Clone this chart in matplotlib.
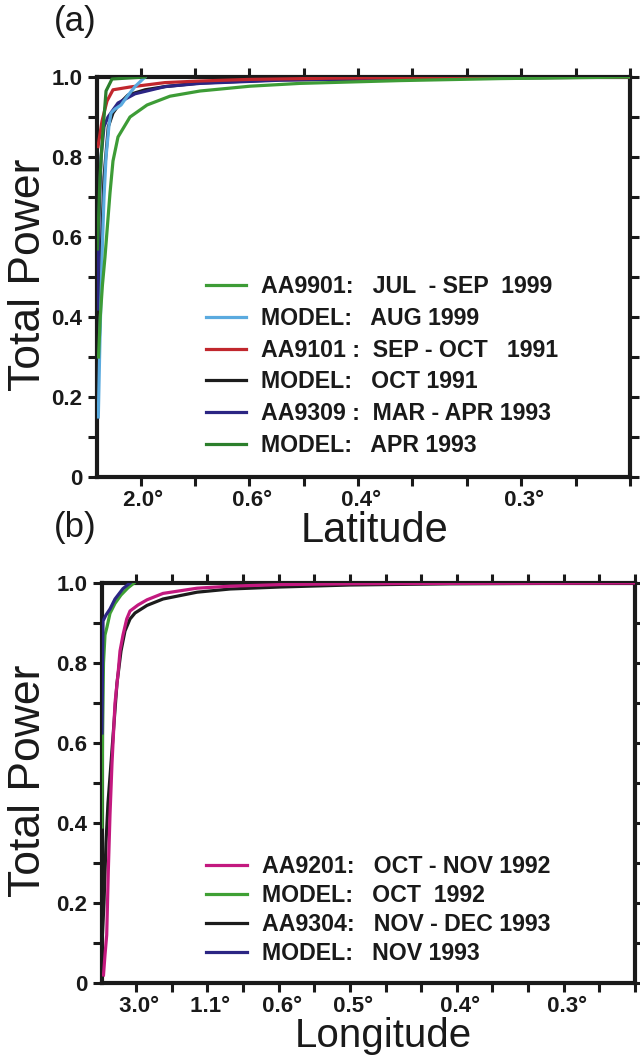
import matplotlib
matplotlib.use("Agg")
import matplotlib.pyplot as plt

plt.rcParams["font.family"] = ["Liberation Sans", "DejaVu Sans"]
INK = "#1a1a1a"

# ---- panel (a): latitude spectra, x in tick-index units ----
lat_ticklabels = [" 2.0°", "", " 0.6°", "", " 0.4°", "", "", " 0.3°", "", ""]

aa9901_x = [-0.772, -0.74, -0.70, -0.653, -0.561, -0.506, -0.414, -0.193, 0.12, 0.542,
            1.094, 2.013, 2.932, 4.771, 6.609, 9.0]
aa9901_y = [0.30, 0.40, 0.48, 0.55, 0.71, 0.79, 0.85, 0.90, 0.93, 0.952,
            0.965, 0.977, 0.984, 0.991, 0.996, 1.0]

aug1999_x = [-0.776, -0.745, -0.708, -0.671, -0.634, -0.579, -0.542, -0.469, -0.358,
             -0.248, -0.101, 0.083]
aug1999_y = [0.15, 0.35, 0.55, 0.70, 0.80, 0.88, 0.91, 0.92, 0.93, 0.951, 0.976, 1.0]

aa9101_x = [-0.781, -0.708, -0.616, -0.506, -0.193, 0.45, 1.094, 2.013, 3.484, 5.69, 9.0]
aa9101_y = [0.826, 0.89, 0.94, 0.968, 0.975, 0.986, 0.99, 0.994, 0.997, 0.999, 1.0]

oct1991_x = [-0.763, -0.726, -0.671, -0.592, -0.506, -0.377, -0.230, 0.083, 0.45,
             1.094, 2.565, 9.0]
oct1991_y = [0.30, 0.55, 0.75, 0.876, 0.91, 0.935, 0.955, 0.968, 0.976, 0.985, 0.993, 1.0]

aa9309_x = [-0.791, -0.763, -0.726, -0.671, -0.598, -0.414, -0.101, 0.45, 1.094,
            2.565, 4.771, 9.0]
aa9309_y = [0.42, 0.65, 0.80, 0.876, 0.90, 0.935, 0.958, 0.976, 0.984, 0.992, 0.997, 1.0]

apr1993_x = [-0.791, -0.745, -0.699, -0.634, -0.524, 0.083]
apr1993_y = [0.57, 0.75, 0.85, 0.965, 0.995, 1.0]

# ---- panel (b): longitude spectra ----
lon_ticklabels = [" 3.0°", "", " 1.1°", "", " 0.6°", "", " 0.5°", "", "", " 0.4°",
                  "", "", " 0.3°", "", ""]

aa9201_x = [-0.912, -0.870, -0.822, -0.777, -0.730, -0.673, -0.589, -0.497, -0.449,
            -0.365, -0.261, -0.168, 0.056, 0.309, 0.758, 1.712, 2.637, 4.04, 6.005,
            8.81, 14.0]
aa9201_y = [0.02, 0.07, 0.12, 0.28, 0.42, 0.55, 0.70, 0.78, 0.83, 0.87, 0.91, 0.93,
            0.945, 0.958, 0.974, 0.987, 0.992, 0.996, 0.998, 0.999, 1.0]

aa9304_x = [-0.954, -0.898, -0.842, -0.786, -0.701, -0.617, -0.533, -0.421, -0.309,
            -0.168, -0.028, 0.309, 0.758, 1.712, 2.637, 4.04, 6.005, 8.81, 14.0]
aa9304_y = [0.10, 0.20, 0.35, 0.45, 0.55, 0.65, 0.75, 0.83, 0.88, 0.91, 0.925, 0.944,
            0.96, 0.977, 0.985, 0.99, 0.995, 0.998, 1.0]

oct1992_x = [-0.954, -0.940, -0.912, -0.870, -0.814, -0.730, -0.589, -0.421, -0.224, -0.056]
oct1992_y = [0.39, 0.62, 0.80, 0.87, 0.89, 0.924, 0.949, 0.97, 0.988, 1.0]

nov1993_x = [-0.954, -0.940, -0.926, -0.842, -0.730, -0.589, -0.365, -0.168]
nov1993_y = [0.625, 0.80, 0.905, 0.92, 0.935, 0.96, 0.986, 1.0]

ytick_labels = ["0", "0.2", "0.4", "0.6", "0.8", "1.0"]


def style_axes(ax, xlim, n_ticks, labels):
    ax.set_xlim(*xlim)
    ax.set_ylim(0, 1)
    ax.set_xticks(range(n_ticks))
    ax.set_xticklabels(labels)
    ax.set_yticks([i / 10 for i in range(11)])
    ax.set_yticklabels(["" if i % 2 else ytick_labels[i // 2] for i in range(11)])
    ax.tick_params(direction="out", length=6.5, width=2.2, color=INK,
                   top=True, right=True, labelsize=16, labelcolor=INK)
    ax.tick_params(axis="y", pad=4)
    ax.tick_params(axis="x", pad=3)
    for lab in ax.get_xticklabels() + ax.get_yticklabels():
        lab.set_fontweight("bold")
    for s in ax.spines.values():
        s.set_linewidth(3)
        s.set_color(INK)


def style_legend(leg):
    for t in leg.get_texts():
        t.set_fontweight("bold")
        t.set_color(INK)


fig = plt.figure(figsize=(6.4, 10.57), dpi=100)

ax1 = fig.add_axes([97 / 640, 1 - 477 / 1057, 533 / 640, 400 / 1057])
kw = dict(lw=2.3, zorder=3, solid_joinstyle="round")
l4, = ax1.plot(oct1991_x, oct1991_y, color="#1c1c1c", label="MODEL:   OCT 1991", **kw)
l5, = ax1.plot(aa9309_x, aa9309_y, color="#2b2583", label="AA9309 :  MAR - APR 1993", **kw)
l3, = ax1.plot(aa9101_x, aa9101_y, color="#c1272d", label="AA9101 :  SEP - OCT   1991", **kw)
l2, = ax1.plot(aug1999_x, aug1999_y, color="#5aaadf", label="MODEL:   AUG 1999", **kw)
l6, = ax1.plot(apr1993_x, apr1993_y, color="#2c7f2c", label="MODEL:   APR 1993", **kw)
l1, = ax1.plot(aa9901_x, aa9901_y, color="#3d9c36", label="AA9901:   JUL  - SEP  1999", **kw)
style_axes(ax1, (-0.80, 9.0), 10, lat_ticklabels)
leg1 = ax1.legend(handles=[l1, l2, l3, l4, l5, l6], loc="upper left",
                  bbox_to_anchor=(0.204, 0.505), frameon=False, fontsize=16.7,
                  handlelength=1.75, handletextpad=0.65, labelspacing=0.38,
                  borderpad=0, borderaxespad=0)
style_legend(leg1)

ax2 = fig.add_axes([102 / 640, 1 - 983 / 1057, 533 / 640, 400 / 1057])
m3, = ax2.plot(aa9304_x, aa9304_y, color="#1c1c1c", label="AA9304:   NOV - DEC 1993", **kw)
m1, = ax2.plot(aa9201_x, aa9201_y, color="#c3197f", label="AA9201:   OCT - NOV 1992", **kw)
m2, = ax2.plot(oct1992_x, oct1992_y, color="#3fa034", label="MODEL:   OCT  1992", **kw)
m4, = ax2.plot(nov1993_x, nov1993_y, color="#2b2583", label="MODEL:   NOV 1993", **kw)
style_axes(ax2, (-0.954, 14.0), 15, lon_ticklabels)
leg2 = ax2.legend(handles=[m1, m2, m3, m4], loc="upper left",
                  bbox_to_anchor=(0.195, 0.32), frameon=False, fontsize=16.7,
                  handlelength=1.75, handletextpad=0.65, labelspacing=0.26,
                  borderpad=0, borderaxespad=0)
style_legend(leg2)

big = dict(color=INK, ha="center")
fig.text(29 / 640, 1 - 275 / 1057, "Total Power", rotation=90, fontsize=32,
         va="center", **big)
fig.text(29 / 640, 1 - 781 / 1057, "Total Power", rotation=90, fontsize=32,
         va="center", **big)
fig.text(375 / 640, 1 - 542 / 1057, "Latitude", fontsize=30, va="baseline", **big)
fig.text(383 / 640, 1 - 1047 / 1057, "Longitude", fontsize=29, va="baseline", **big)
fig.text(75 / 640, 1 - 22 / 1057, "(a)", fontsize=25, color=INK, ha="center", va="center")
fig.text(75 / 640, 1 - 528 / 1057, "(b)", fontsize=25, color=INK, ha="center", va="center")

fig.savefig("out.png", dpi=100)
